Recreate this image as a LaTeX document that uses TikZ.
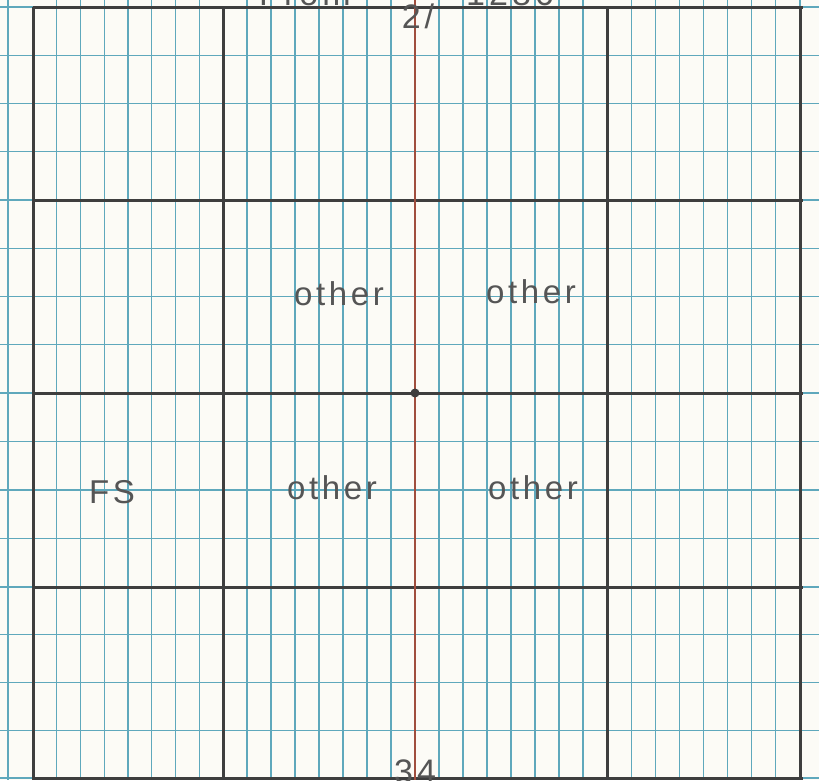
\documentclass[tikz,border=0pt]{standalone}
\usepackage{fontspec}
\setmainfont{Liberation Sans}
\definecolor{paper}{RGB}{252,251,246}
\definecolor{gridblue}{RGB}{95,168,188}
\definecolor{heavyc}{RGB}{62,62,62}
\definecolor{redline}{RGB}{160,78,62}
\definecolor{pencil}{RGB}{85,85,85}
\begin{document}
\begin{tikzpicture}[x=1pt,y=-1pt,
  minor/.style={gridblue, line width=1.2pt},
  major/.style={heavyc, line width=3pt},
  hand/.style={pencil, font=\fontsize{33}{33}\selectfont\addfontfeature{LetterSpace=11}, inner sep=0pt, anchor=base},
  bighand/.style={pencil, font=\fontsize{34}{34}\selectfont\addfontfeature{LetterSpace=12}, inner sep=0pt, anchor=base}]
\fill[paper] (0,0) rectangle (819,780);
\useasboundingbox (0,0) rectangle (819,780);
\clip (0,0) rectangle (819,780);
% minor vertical lines
\draw[minor] (8,0) -- (8,780);
\foreach \a/\b in {33/223,223/415,415/607,607/800}
  \foreach \k in {1,...,7}
    \draw[minor] ({\a+\k*(\b-\a)/8},0) -- ({\a+\k*(\b-\a)/8},780);
% minor horizontal lines
\foreach \a/\b in {7/200,200/393,393/587,587/778}
  \foreach \k in {1,2,3}
    \draw[minor] (0,{\a+\k*(\b-\a)/4}) -- (819,{\a+\k*(\b-\a)/4});
\foreach \y in {7,200,393,587,778} \draw[minor] (0,\y) -- (819,\y);
\draw[minor] (800,0) -- (800,780);
% major lines
\foreach \y in {7,200,393,587,778} \draw[major] (33,\y) -- (803,\y);
\foreach \x in {33,223,607,800} \draw[major] (\x,7) -- (\x,780);
\draw[redline, line width=2pt] (415,0) -- (415,780);
\fill[heavyc] (415,393) circle (4.5);
% texts
\node[bighand] (t1) at (305,5) {From};
\node[bighand] (t2) at (418,28) {2/};
\node[bighand] (t3) at (510,5) {1286};
\node[hand] (o1) at (339,305) {other};
\node[hand] (o2) at (531,303) {other};
\node[hand] (o3) at (332,499) {other};
\node[hand] (o4) at (533,499) {other};
\node[hand] (fs) at (112,503) {FS};
\node[bighand] (n34) at (415,783) {34};
\end{tikzpicture}
\end{document}
